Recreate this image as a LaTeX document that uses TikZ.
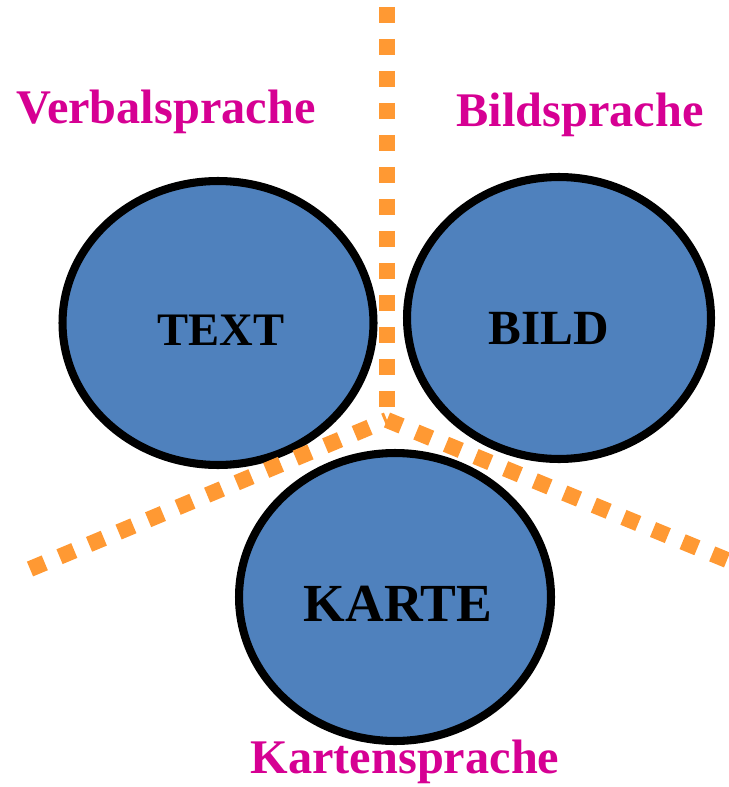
\documentclass[tikz,border=0pt]{standalone}
\usepackage{fontspec}
\setmainfont{Liberation Serif}
\usetikzlibrary{shapes.geometric}

\definecolor{kreisblau}{RGB}{79,129,189}
\definecolor{trennorange}{RGB}{255,153,51}
\definecolor{sprachmagenta}{RGB}{214,0,147}

\tikzset{
  sprache/.style={ellipse, draw=black, line width=4.6pt, fill=kreisblau},
  kennung/.style={font=\fontsize{#1}{30}\selectfont\bfseries, text=black},
  bereich/.style={font=\fontsize{27.5}{30}\selectfont\bfseries, text=sprachmagenta},
  trenner/.style={draw=trennorange, line width=0.32cm, dash pattern=on 0.32cm off 0.32cm}
}

\begin{document}
\begin{tikzpicture}[x=0.02cm, y=-0.02cm]
      \useasboundingbox (0,0) rectangle (728,787);

      % Ellipses (the three kinds of language)
      \node[sprache, minimum width=6.22cm, minimum height=5.68cm] (text) at (218,323) {};
      \node[sprache, minimum width=6.08cm, minimum height=5.64cm] (bild) at (559,318) {};
      \node[sprache, minimum width=6.24cm, minimum height=5.76cm] (karte) at (395,597) {};

      \node[kennung=26.5] (textlabel) at (221,330) {TEXT};
      \node[kennung=28] (bildlabel) at (549,328) {BILD};
      \node[kennung=30.5] (kartelabel) at (398,604) {KARTE};

      % Dividing lines
      \coordinate (mitte) at (387,420);
      \coordinate (oben) at (387,7);
      \coordinate (links) at (30,569);
      \coordinate (rechts) at (727,560);
      \draw[trenner] (oben) -- (mitte);
      \draw[trenner] (links) -- (mitte);
      \draw[trenner] (rechts) -- (mitte);

      % Labels of the areas
      \node[bereich] (verbal) at (166,112) {Verbalsprache};
      \node[bereich] (bildspr) at (580,115) {Bildsprache};
      \node[bereich] (kartenspr) at (405,762) {Kartensprache};
\end{tikzpicture}
\end{document}
